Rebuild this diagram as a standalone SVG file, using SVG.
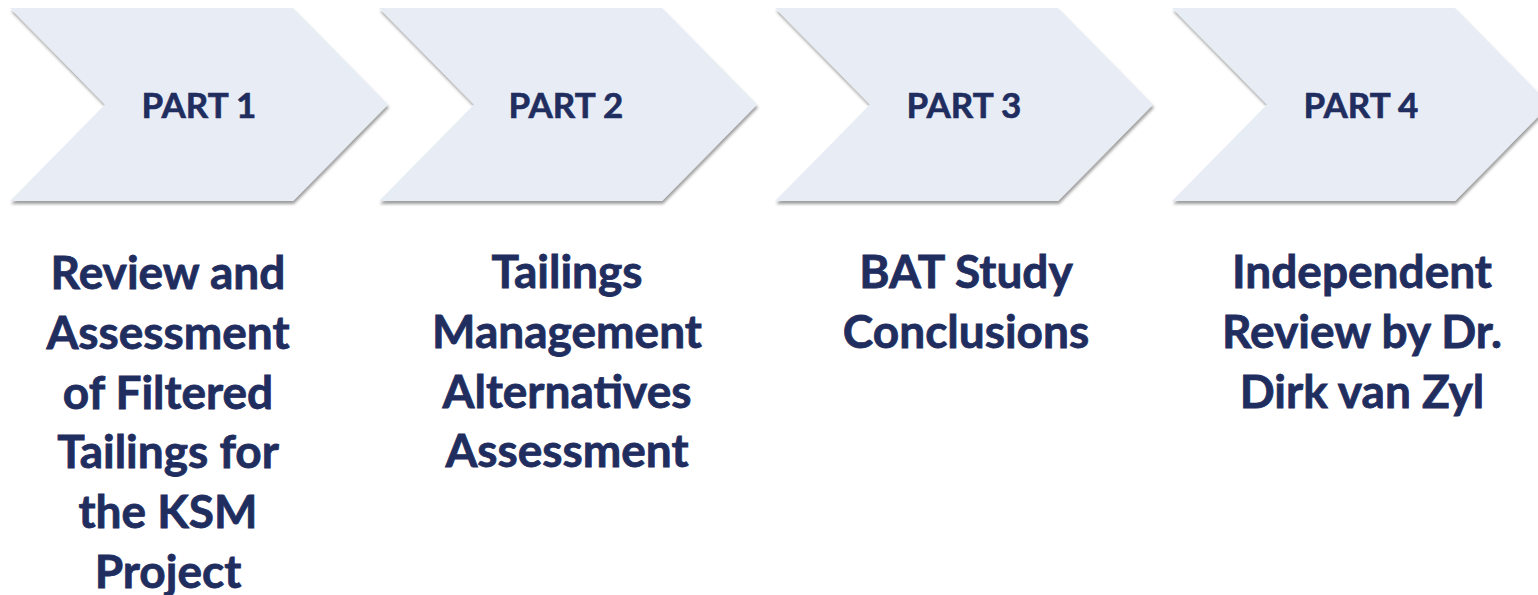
<svg xmlns="http://www.w3.org/2000/svg" width="1538" height="595" viewBox="0 0 1538 595">
  <defs>
    <filter id="shadow" x="-5%" y="-5%" width="115%" height="120%">
      <feDropShadow dx="1" dy="3" stdDeviation="1.6" flood-color="#000" flood-opacity="0.38"/>
    </filter>
    <!-- chevron: width to shoulder 283, point depth 95, height 193 -->
    <path id="chev" d="M0,0 H283 L378,96.5 L283,193 H0 L95,96.5 Z"/>
  </defs>
  <style>
    .chev { fill: #E7ECF5; filter: url(#shadow); }
    .part { font-family: Lato, "Open Sans", sans-serif; font-weight: 700; font-size: 35px; fill: #1F2D5F; stroke: #1F2D5F; stroke-width: 0.6px; text-anchor: middle; }
    .desc { font-family: Lato, "Open Sans", sans-serif; font-weight: 700; font-size: 46px; fill: #1F2D5F; stroke: #1F2D5F; stroke-width: 0.8px; text-anchor: middle; }
  </style>

  <rect width="1538" height="595" fill="#FFFFFF"/>

  <g id="part1">
    <use href="#chev" class="chev" x="10" y="8"/>
    <text class="part" x="199" y="118">PART 1</text>
    <text class="desc" x="168" y="289">Review and</text>
    <text class="desc" x="168" y="349">Assessment</text>
    <text class="desc" x="168" y="409">of Filtered</text>
    <text class="desc" x="168" y="468">Tailings for</text>
    <text class="desc" x="168" y="528">the KSM</text>
    <text class="desc" x="168" y="588">Project</text>
  </g>

  <g id="part2">
    <use href="#chev" class="chev" x="379" y="8"/>
    <text class="part" x="566" y="118">PART 2</text>
    <text class="desc" x="567" y="288">Tailings</text>
    <text class="desc" x="567" y="348">Management</text>
    <text class="desc" x="567" y="408">Alternatives</text>
    <text class="desc" x="567" y="467">Assessment</text>
  </g>

  <g id="part3">
    <use href="#chev" class="chev" x="775" y="8"/>
    <text class="part" x="964" y="118">PART 3</text>
    <text class="desc" x="966" y="288">BAT Study</text>
    <text class="desc" x="966" y="348">Conclusions</text>
  </g>

  <g id="part4">
    <use href="#chev" class="chev" x="1172" y="8"/>
    <text class="part" x="1361" y="118">PART 4</text>
    <text class="desc" x="1362" y="288">Independent</text>
    <text class="desc" x="1362" y="348">Review by Dr.</text>
    <text class="desc" x="1362" y="408">Dirk van Zyl</text>
  </g>

  <g id="connectors"/>
</svg>
